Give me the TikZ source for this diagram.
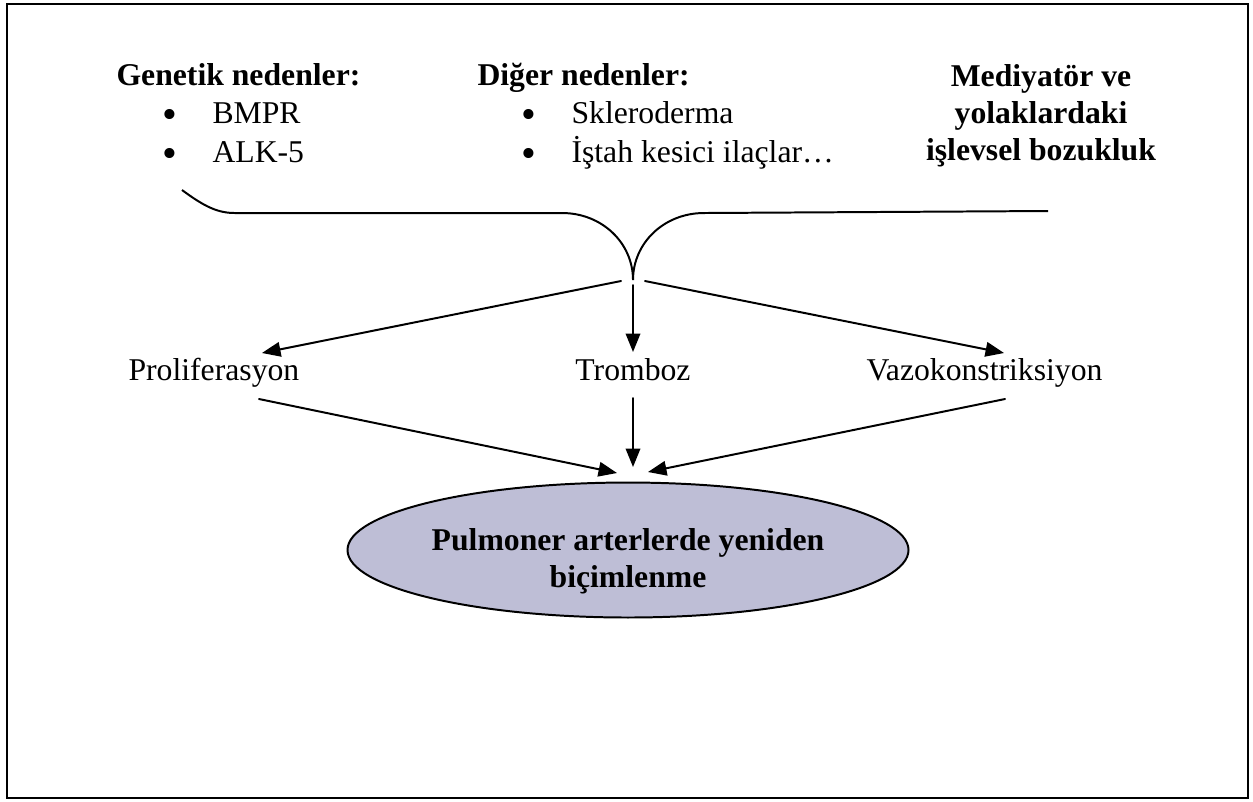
\documentclass[tikz,border=0pt]{standalone}
\usepackage{fontspec}
\setmainfont{Liberation Serif}
\usepackage{tkz-euclide}
\usetikzlibrary{arrows.meta,shapes.geometric}
\definecolor{lavgray}{RGB}{190,190,214}
\tikzset{
  flow/.style={line width=0.75pt,-{Triangle[length=7pt,width=5.5pt]}},
  brace/.style={line width=0.75pt},
  word/.style={inner sep=0pt,font=\fontsize{12}{14}\selectfont},
  head/.style={word,font=\fontsize{12}{14}\selectfont\bfseries},
  dot/.style={inner sep=0pt,font=\fontsize{16}{16}\selectfont}
}
\newcommand{\myItem}[4]{
\node[dot,anchor=base] (#1b) at (#2,#3+5) {•};
\node[word,anchor=base west] (#1) at (#2+42,#3) {#4};
}

\begin{document}
\begin{tikzpicture}[x=0.3786pt,y=-0.3786pt]
			\useasboundingbox (0,0) rectangle (1253,801);
			\draw[line width=1pt] (7,4) rectangle (1248,798);
			%% causes
			\node[head,anchor=base west] (genetik) at (116,85) {Genetik nedenler:};
			\myItem{bmpr}{170}{123}{BMPR}
			\myItem{alk}{170}{162}{ALK-5}
			\node[head,anchor=base west] (diger) at (477,85) {Diğer nedenler:};
			\myItem{sklero}{529}{123}{Skleroderma}
			\myItem{istah}{529}{162}{İştah kesici ilaçlar…}
			\node[head,anchor=north,align=center] (mediyator) at (1041,64)
			  {Mediyatör ve\\yolaklardaki\\işlevsel bozukluk};
			%% brace
			\tkzDefPoints{182/190/L1, 235/213/L2, 562/213/L3, 633/280/C,
			  704/213/R3, 1048/211/R1}
			\draw[brace] (L1) .. controls (205,207) and (218,213) .. (L2) -- (L3)
			  .. controls (602,213) and (633,243) .. (C)
			  .. controls (633,243) and (664,213) .. (R3) -- (R1);
			%% mechanisms
			\node[word,anchor=base west] (prolif) at (128,380) {Proliferasyon};
			\node[word,anchor=base] (tromboz) at (633,380) {Tromboz};
			\node[word,anchor=base east] (vazo) at (1103,380) {Vazokonstriksiyon};
			\tkzDefPoints{621/281/S1, 633/285/S2, 645/281/S3,
			  262/353/T1, 633/352/T2, 1004/353/T3}
			\tkzDrawSegments[flow](S1,T1 S2,T2 S3,T3)
			%% result
			\node[ellipse,draw,line width=0.75pt,fill=lavgray,minimum width=212.4pt,
			  minimum height=51.1pt,inner sep=0pt] (remodel) at (628,550) {};
			\node[head,align=center] (remodeltxt) at (628,561)
			  {Pulmoner arterlerde yeniden\\biçimlenme};
			\tkzDefPoints{259/399/B1, 633/398/B2, 1005/399/B3,
			  617/473/E1, 633/467/E2, 648/472/E3}
			\tkzDrawSegments[flow](B1,E1 B2,E2 B3,E3)
\end{tikzpicture}
\end{document}
